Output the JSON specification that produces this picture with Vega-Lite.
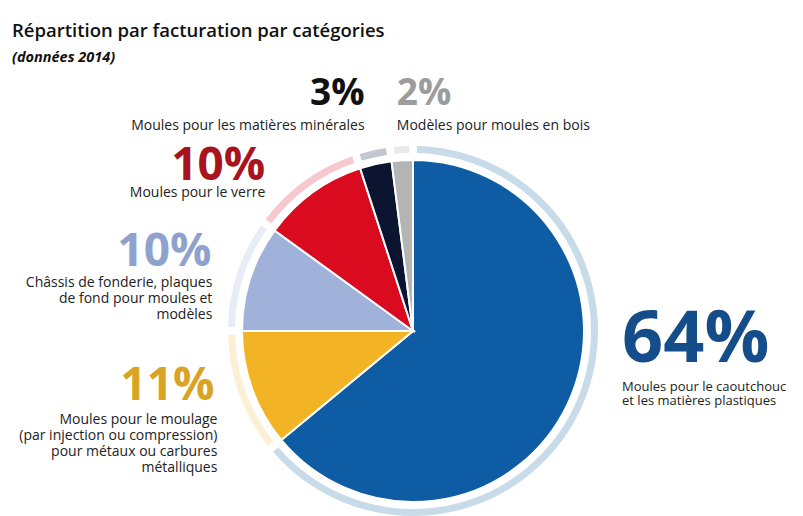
{
  "$schema": "https://vega.github.io/schema/vega-lite/v6.json",
  "autosize": "none",
  "padding": {"left": 23, "top": 146, "right": 0, "bottom": 0},
  "width": 780,
  "height": 370,
  "background": "white",
  "config": {"view": {"stroke": null}, "font": "Open Sans"},
  "title": {
    "text": "Répartition par facturation par catégories",
    "subtitle": "(données 2014)",
    "anchor": "start",
    "frame": "group",
    "dx": -11,
    "offset": 5,
    "font": "Open Sans",
    "fontSize": 18.5,
    "fontWeight": 600,
    "color": "#111111",
    "subtitleFont": "Open Sans",
    "subtitleFontSize": 14.5,
    "subtitleFontWeight": "bold",
    "subtitleFontStyle": "italic",
    "subtitleColor": "#111111",
    "subtitlePadding": 10
  },
  "data": {
    "values": [
      {"cat": "caout", "order": 1, "value": 64, "pct": "64%", "desc": "Moules pour le caoutchouc\net les matières plastiques"},
      {"cat": "moulage", "order": 2, "value": 11, "pct": "11%", "desc": "Moules pour le moulage\n(par injection ou compression)\npour métaux ou carbures\nmétalliques"},
      {"cat": "chassis", "order": 3, "value": 10, "pct": "10%", "desc": "Châssis de fonderie, plaques\nde fond pour moules et\nmodèles"},
      {"cat": "verre", "order": 4, "value": 10, "pct": "10%", "desc": "Moules pour le verre"},
      {"cat": "minerales", "order": 5, "value": 3, "pct": "3%", "desc": "Moules pour les matières minérales"},
      {"cat": "bois", "order": 6, "value": 2, "pct": "2%", "desc": "Modèles pour moules en bois"}
    ]
  },
  "encoding": {
    "theta": {"field": "value", "type": "quantitative", "stack": true},
    "order": {"field": "order", "type": "quantitative"}
  },
  "layer": [
    {
      "mark": {"type": "arc", "radius": 185, "radius2": 178, "padAngle": 0.03},
      "encoding": {
        "color": {"field": "cat", "type": "nominal", "legend": null,
          "scale": {"domain": ["caout", "moulage", "chassis", "verre", "minerales", "bois"],
                    "range": ["#c8dbe8", "#fcf0d4", "#e8edf5", "#f5c9cf", "#c4c7cf", "#e9e9e9"]}}
      }
    },
    {
      "mark": {"type": "arc", "radius": 171, "stroke": "white", "strokeWidth": 2},
      "encoding": {
        "color": {"field": "cat", "type": "nominal", "legend": null,
          "scale": {"domain": ["caout", "moulage", "chassis", "verre", "minerales", "bois"],
                    "range": ["#0d5ca4", "#f2b325", "#a0b1da", "#da0a1f", "#0b1530", "#b4b4b4"]}}
      }
    },
    {
      "mark": {"type": "text", "radius": 73, "dx": 143, "dy": 0, "align": "left", "baseline": "alphabetic", "fontSize": 72, "fontWeight": "bold", "color": "#154d8a", "font": "Open Sans"},
      "encoding": {"detail": {"field": "cat"}, "text": {"condition": {"test": "datum.cat === 'caout'", "field": "pct"}, "value": ""}}
    },
    {
      "mark": {"type": "text", "radius": 73, "dx": 143, "dy": 29, "align": "left", "baseline": "alphabetic", "fontSize": 13, "lineHeight": 14, "lineBreak": "\n", "color": "#222222", "font": "Open Sans"},
      "encoding": {"detail": {"field": "cat"}, "text": {"condition": {"test": "datum.cat === 'caout'", "field": "desc"}, "value": ""}}
    },
    {
      "mark": {"type": "text", "radius": 210, "dx": -1, "dy": -2, "align": "right", "baseline": "alphabetic", "fontSize": 46, "fontWeight": "bold", "color": "#d9a423", "font": "Open Sans"},
      "encoding": {"detail": {"field": "cat"}, "text": {"condition": {"test": "datum.cat === 'moulage'", "field": "pct"}, "value": ""}}
    },
    {
      "mark": {"type": "text", "radius": 210, "dx": 2, "dy": 22, "align": "right", "baseline": "alphabetic", "fontSize": 14, "lineHeight": 16, "lineBreak": "\n", "color": "#222222", "font": "Open Sans"},
      "encoding": {"detail": {"field": "cat"}, "text": {"condition": {"test": "datum.cat === 'moulage'", "field": "desc"}, "value": ""}}
    },
    {
      "mark": {"type": "text", "radius": 212, "dx": 0, "dy": 1, "align": "right", "baseline": "alphabetic", "fontSize": 46, "fontWeight": "bold", "color": "#8fa2cd", "font": "Open Sans"},
      "encoding": {"detail": {"field": "cat"}, "text": {"condition": {"test": "datum.cat === 'chassis'", "field": "pct"}, "value": ""}}
    },
    {
      "mark": {"type": "text", "radius": 212, "dx": 1, "dy": 22, "align": "right", "baseline": "alphabetic", "fontSize": 14, "lineHeight": 16, "lineBreak": "\n", "color": "#222222", "font": "Open Sans"},
      "encoding": {"detail": {"field": "cat"}, "text": {"condition": {"test": "datum.cat === 'chassis'", "field": "desc"}, "value": ""}}
    },
    {
      "mark": {"type": "text", "radius": 185, "dx": -39, "dy": -1, "align": "right", "baseline": "alphabetic", "fontSize": 46, "fontWeight": "bold", "color": "#a8141e", "font": "Open Sans"},
      "encoding": {"detail": {"field": "cat"}, "text": {"condition": {"test": "datum.cat === 'verre'", "field": "pct"}, "value": ""}}
    },
    {
      "mark": {"type": "text", "radius": 185, "dx": -39, "dy": 16, "align": "right", "baseline": "alphabetic", "fontSize": 14, "color": "#222222", "font": "Open Sans"},
      "encoding": {"detail": {"field": "cat"}, "text": {"condition": {"test": "datum.cat === 'verre'", "field": "desc"}, "value": ""}}
    },
    {
      "mark": {"type": "text", "radius": 231, "dx": 2, "dy": -1, "align": "right", "baseline": "alphabetic", "fontSize": 37, "fontWeight": "bold", "color": "#111111", "font": "Open Sans"},
      "encoding": {"detail": {"field": "cat"}, "text": {"condition": {"test": "datum.cat === 'minerales'", "field": "pct"}, "value": ""}}
    },
    {
      "mark": {"type": "text", "radius": 231, "dx": 2, "dy": 24, "align": "right", "baseline": "alphabetic", "fontSize": 14, "color": "#222222", "font": "Open Sans"},
      "encoding": {"detail": {"field": "cat"}, "text": {"condition": {"test": "datum.cat === 'minerales'", "field": "desc"}, "value": ""}}
    },
    {
      "mark": {"type": "text", "radius": 226, "dx": -2, "dy": 0, "align": "left", "baseline": "alphabetic", "fontSize": 37, "fontWeight": "bold", "color": "#9c9c9c", "font": "Open Sans"},
      "encoding": {"detail": {"field": "cat"}, "text": {"condition": {"test": "datum.cat === 'bois'", "field": "pct"}, "value": ""}}
    },
    {
      "mark": {"type": "text", "radius": 226, "dx": -2, "dy": 25, "align": "left", "baseline": "alphabetic", "fontSize": 14, "color": "#222222", "font": "Open Sans"},
      "encoding": {"detail": {"field": "cat"}, "text": {"condition": {"test": "datum.cat === 'bois'", "field": "desc"}, "value": ""}}
    }
  ],
  "resolve": {"scale": {"color": "independent"}}
}
